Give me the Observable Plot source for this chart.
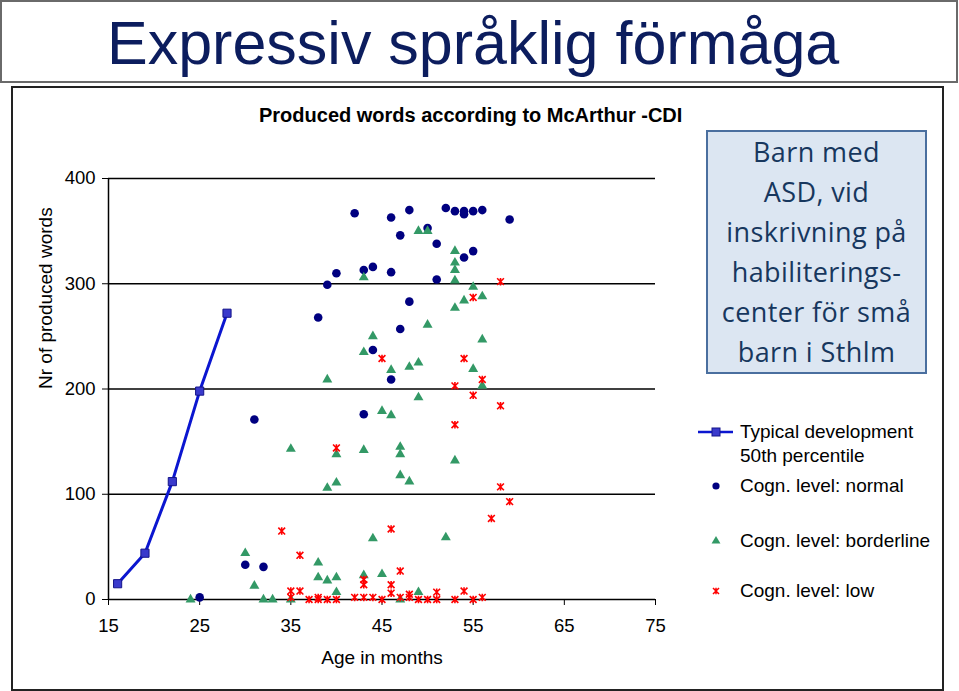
<!DOCTYPE html>
<html><head><meta charset="utf-8">
<script src="https://cdn.jsdelivr.net/npm/d3@7"></script>
<script src="https://cdn.jsdelivr.net/npm/@observablehq/plot@0.6"></script>
<style>
body{margin:0;background:#fff;}
#page{position:relative;width:959px;height:691px;overflow:hidden;font-family:"Liberation Sans",Arial,sans-serif;background:#fff;}
#titlebox{position:absolute;left:0;top:0;width:954px;height:79px;border:2px solid #6a6a6a;box-sizing:content-box;}
#title{position:absolute;left:107px;top:13px;font-size:61px;line-height:61px;color:#0c1d5e;white-space:nowrap;}
#chartbox{position:absolute;left:11px;top:86px;width:929px;height:601px;border:2px solid #222;}
#ctitle{position:absolute;left:259px;top:105px;font-size:20px;line-height:20px;font-weight:bold;color:#000;white-space:nowrap;}
#textbox{position:absolute;left:706px;top:130px;width:217px;height:240px;background:#dce6f2;border:2px solid #4a6f9f;}
#textbox div{font-family:"Open Sans",sans-serif;font-size:27px;line-height:40px;color:#17375e;text-align:center;letter-spacing:0.4px;white-space:nowrap;margin-top:0px;}
.leg{position:absolute;left:740px;font-size:19px;line-height:24px;color:#000;white-space:nowrap;}
#plot{position:absolute;left:0;top:90px;}
</style></head>
<body><div id="page">
<div id="titlebox"></div>
<div id="title">Expressiv språklig förmåga</div>
<div id="chartbox"></div>
<div id="ctitle">Produced words according to McArthur -CDI</div>
<div id="plot"></div>
<div id="textbox"><div>Barn med<br>ASD, vid<br>inskrivning på<br>habiliterings-<br>center för små<br>barn i Sthlm</div></div>
<div id="legend"></div>
</div>
<script>
// Typical development, 50th percentile
const tdAge = [16, 19, 22, 25, 28];
const tdWords = [15, 44, 112, 198, 272];
// Cognitive level: normal
const normalAge = [25,30,31,32,38,39,40,42,43,43,44,44,46,46,46,47,47,48,48,50,51,51,52,53,54,54,54,55,55,56,59];
const normalWords = [2,33,171,31,268,299,310,367,313,176,316,237,363,311,209,346,257,370,283,353,338,304,372,369,369,366,325,369,331,370,361];
// Cognitive level: borderline
const borderAge = [24,30,31,32,33,35,35,38,38,39,39,39,40,40,40,40,43,43,43,43,44,44,45,45,46,46,47,47,47,47,48,48,49,49,49,49,50,50,52,53,53,53,53,53,53,54,55,55,56,56,56];
const borderWords = [0,44,13,0,0,143,0,35,21,18,106,209,111,138,21,7,306,235,142,23,250,58,179,24,175,218,145,138,118,0,221,112,350,225,192,7,350,261,59,331,320,313,303,277,132,284,297,219,288,247,203];
// Cognitive level: low
const lowAge = [58,55,54,45,56,53,55,58,53,40,58,59,57,46,34,36,47,43,43,46,46,35,35,36,54,51,48,48,37,38,38,39,40,42,43,44,45,47,49,50,51,53,55,56];
const lowWords = [302,287,229,229,209,203,194,184,166,144,107,93,77,67,65,42,27,19,14,14,6,8,2,8,8,7,5,2,0,2,0,0,0,2,2,2,0,2,0,0,0,0,0,2];

const xTicks = [15, 25, 35, 45, 55, 65, 75];
const yTicks = [0, 100, 200, 300, 400];
const legendLabels = ["Typical development", "50th percentile", "Cogn. level: normal", "Cogn. level: borderline", "Cogn. level: low"];

const C = {line: "#0b16d0", sqFill: "#3a3acc", sqStroke: "#14148a", normal: "#000080", border: "#339966", low: "#ff0000"};

const zip = (a, b) => a.map((v, i) => ({age: v, words: b[i]}));
const td = zip(tdAge, tdWords);
const normal = zip(normalAge, normalWords);
const border = zip(borderAge, borderWords);
const low = zip(lowAge, lowWords);

// Excel-like "star" marker: an x with a vertical bar
const star = {draw(ctx, size) {
  const s = Math.sqrt(size / Math.PI);
  ctx.moveTo(-s, -s); ctx.lineTo(s, s);
  ctx.moveTo(-s, s); ctx.lineTo(s, -s);
  ctx.moveTo(0, -s * 1.1); ctx.lineTo(0, s * 1.1);
}};

const chart = Plot.plot({
  width: 700, height: 590,
  marginLeft: 108, marginRight: 45, marginTop: 88, marginBottom: 81,
  style: {fontFamily: "'Liberation Sans', Arial, sans-serif", fontSize: "18.5px", color: "#000", background: "transparent", overflow: "visible"},
  x: {domain: [15, 75], ticks: xTicks, tickSize: 6, tickPadding: 13, label: null},
  y: {domain: [0, 400], ticks: yTicks, tickSize: 6, tickPadding: 7, label: null},
  marks: [
    Plot.ruleY(yTicks.slice(1), {x1: 15, x2: 75, stroke: "#000", strokeWidth: 1.3}),
    Plot.ruleY([0], {x1: 15, x2: 75, stroke: "#000", strokeWidth: 1.5}),
    Plot.ruleX([15], {y1: 0, y2: 400, stroke: "#000", strokeWidth: 1.5}),
    Plot.text(["Nr of produced words"], {frameAnchor: "left", dx: -63, rotate: -90, fontSize: 19, lineAnchor: "middle"}),
    Plot.text(["Age in months"], {frameAnchor: "bottom", dy: 58, fontSize: 19, lineAnchor: "middle"}),
    Plot.line(td, {x: "age", y: "words", stroke: C.line, strokeWidth: 3}),
    Plot.dot(td, {x: "age", y: "words", symbol: "square", r: 4.6, fill: C.sqFill, stroke: C.sqStroke, strokeWidth: 1}),
    Plot.dot(normal, {x: "age", y: "words", symbol: "circle", r: 4.3, fill: C.normal, stroke: null}),
    Plot.dot(border, {x: "age", y: "words", symbol: "triangle", r: 3.7, fill: C.border, stroke: null}),
    Plot.dot(low, {x: "age", y: "words", symbol: star, r: 3.4, fill: "none", stroke: C.low, strokeWidth: 1.6})
  ]
});
document.getElementById("plot").appendChild(chart);

// Legend
const leg = document.getElementById("legend");
const ys = [432, 456, 486, 541, 591];
legendLabels.forEach((t, i) => {
  const d = document.createElement("div");
  d.className = "leg"; d.textContent = t; d.style.top = (ys[i] - 12) + "px";
  leg.appendChild(d);
});
const ns = "http://www.w3.org/2000/svg";
const sv = document.createElementNS(ns, "svg");
sv.setAttribute("width", 60); sv.setAttribute("height", 200);
sv.style.position = "absolute"; sv.style.left = "690px"; sv.style.top = "415px";
sv.innerHTML =
  `<line x1="8" x2="43" y1="17" y2="17" stroke="${C.line}" stroke-width="2.5"/>` +
  `<rect x="22" y="13" width="8" height="8" fill="${C.sqFill}" stroke="${C.sqStroke}"/>` +
  `<circle cx="26" cy="71" r="3.6" fill="${C.normal}"/>` +
  `<path d="${d3.symbol(d3.symbolTriangle, 34)()}" transform="translate(26,126)" fill="${C.border}"/>` +
  `<path d="M-3,-3L3,3M-3,3L3,-3M0,-3.3L0,3.3" transform="translate(26,176)" stroke="${C.low}" stroke-width="1.5" fill="none"/>`;
document.getElementById("page").appendChild(sv);
</script>
</body></html>
